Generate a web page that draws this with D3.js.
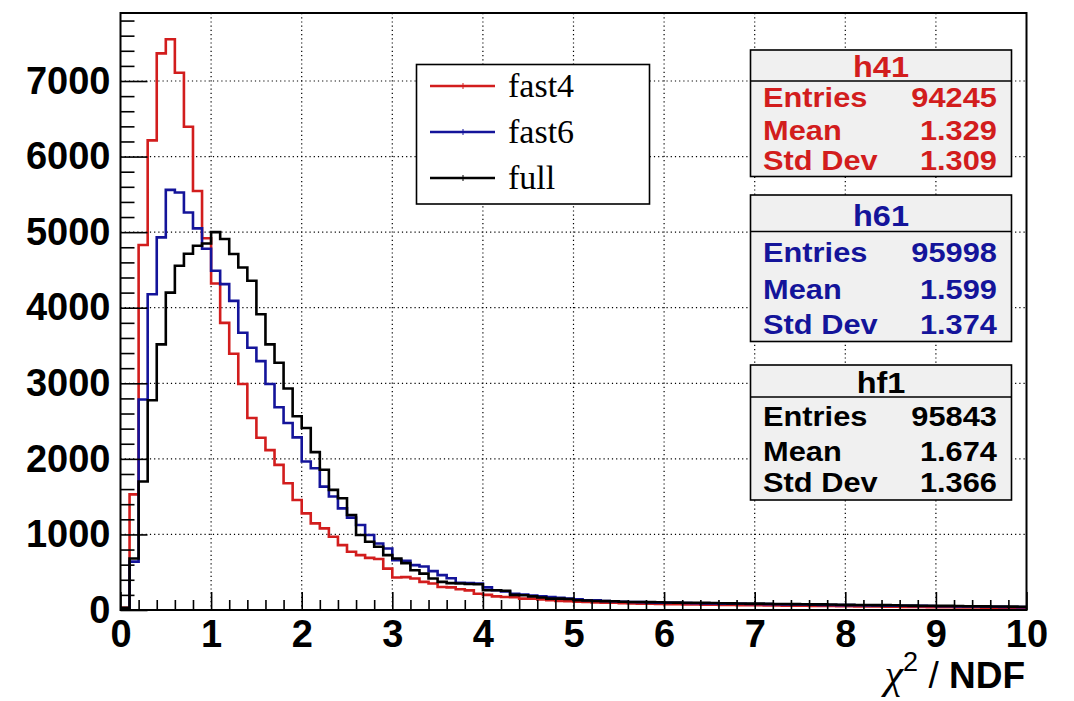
<!DOCTYPE html>
<html>
<head>
<meta charset="utf-8">
<script src="https://cdn.jsdelivr.net/npm/d3@7"></script>
<style>
  html, body { margin: 0; padding: 0; background: #fff; }
  svg { display: block; }
</style>
</head>
<body>
<svg id="svg"></svg>
<script>
// Histogram binning: 100 bins from 0 to 10
const binWidth = 0.1;
const xTicks = [0, 1, 2, 3, 4, 5, 6, 7, 8, 9, 10];
const yTicks = [0, 1000, 2000, 3000, 4000, 5000, 6000, 7000];

// fast4 (h41)
const fast4 = [
  30, 1530, 4830, 6215, 7366, 7552, 7110, 6395, 5545, 4920,
  4320, 3800, 3390, 2990, 2540, 2280, 2115, 1920, 1677, 1456,
  1279, 1146, 1080, 969, 859, 770, 726, 690, 675, 548,
  430, 435, 416, 372, 350, 305, 300, 274, 260, 216,
  200, 180, 173, 168, 150, 150, 140, 130, 120, 115,
  110, 105, 100, 97, 95, 90, 88, 84, 82, 80,
  78, 76, 75, 72, 70, 70, 68, 66, 65, 64,
  62, 60, 60, 58, 57, 56, 55, 54, 52, 50,
  50, 48, 47, 46, 45, 44, 42, 40, 40, 38,
  37, 36, 35, 34, 33, 32, 30, 28, 26, 25
];

// fast6 (h61)
const fast6 = [
  20, 640, 2785, 4179, 4931, 5560, 5525, 5260, 5050, 4780,
  4489, 4312, 4090, 3669, 3470, 3293, 2990, 2683, 2474, 2284,
  1965, 1876, 1633, 1501, 1345, 1222, 1125, 992, 880, 814,
  660, 650, 594, 575, 514, 461, 420, 360, 355, 350,
  300, 262, 245, 215, 203, 190, 180, 173, 160, 150,
  140, 130, 129, 120, 115, 110, 106, 104, 100, 98,
  96, 95, 92, 90, 88, 86, 85, 84, 82, 80,
  80, 78, 76, 75, 74, 72, 70, 68, 67, 65,
  64, 62, 60, 60, 58, 57, 56, 55, 54, 52,
  50, 50, 48, 47, 46, 45, 44, 42, 40, 38
];

// full (hf1)
const full = [
  30, 681, 1700, 2775, 3515, 4200, 4555, 4714, 4820, 4850,
  5000, 4910, 4710, 4533, 4356, 3913, 3515, 3271, 2931, 2563,
  2408, 2089, 1855, 1590, 1478, 1258, 992, 903, 837, 726,
  681, 620, 527, 482, 416, 372, 355, 350, 345, 340,
  262, 262, 255, 200, 195, 180, 165, 150, 150, 145,
  129, 125, 120, 118, 115, 110, 106, 106, 104, 102,
  100, 98, 96, 95, 94, 92, 90, 88, 87, 85,
  84, 82, 80, 79, 78, 76, 75, 74, 72, 70,
  68, 67, 66, 65, 64, 62, 60, 58, 57, 56,
  55, 54, 52, 50, 50, 48, 47, 46, 45, 44
];

const seriesNames = ["fast4", "fast6", "full"];
const histNames = ["h41", "h61", "hf1"];
const entries = ["94245", "95998", "95843"];
const means = ["1.329", "1.599", "1.674"];
const stdDevs = ["1.309", "1.374", "1.366"];
const colors = ["#d21d1d", "#14149a", "#000000"];

const width = 1074, height = 701;
const plot = { left: 120.5, right: 1026.5, top: 13, bottom: 610 };

const svg = d3.select("#svg")
    .attr("width", width)
    .attr("height", height);

const x = d3.scaleLinear().domain([0, 10]).range([plot.left, plot.right]);
const y = d3.scaleLinear().domain([0, 7900]).range([plot.bottom, plot.top]);

const sansBold = "'Liberation Sans', Arial, sans-serif";

// Dotted grid
const grid = svg.append("g").attr("class", "grid");
grid.selectAll(".gx")
    .data(xTicks.slice(1, -1))
    .join("line")
    .attr("x1", d => x(d)).attr("x2", d => x(d))
    .attr("y1", plot.top).attr("y2", plot.bottom)
    .attr("stroke", "#000").attr("stroke-width", 1.2)
    .attr("stroke-dasharray", "1.2,3");
grid.selectAll(".gy")
    .data(yTicks.slice(1))
    .join("line")
    .attr("x1", plot.left).attr("x2", plot.right)
    .attr("y1", d => y(d)).attr("y2", d => y(d))
    .attr("stroke", "#000").attr("stroke-width", 1.2)
    .attr("stroke-dasharray", "1.2,3");

// Histograms as step lines
const line = d3.line()
    .x(d => x(d[0]))
    .y(d => y(d[1]))
    .curve(d3.curveStepAfter);

[fast4, fast6, full].forEach((vals, k) => {
    const pts = vals.map((v, i) => [i * binWidth, v]);
    pts.push([vals.length * binWidth, vals[vals.length - 1]]);
    svg.append("path")
        .attr("d", line(pts))
        .attr("fill", "none")
        .attr("stroke", colors[k])
        .attr("stroke-width", 2.6);
});

// Axes
const yMinor = d3.range(0, 7901, 200).filter(v => v % 1000 !== 0);
const xMinor = d3.range(0, 10.01, 0.2).filter(v => Math.abs(v - Math.round(v)) > 1e-6);

const yAxisMinor = svg.append("g")
    .attr("transform", `translate(${plot.left},0)`)
    .call(d3.axisLeft(y).tickValues(yMinor).tickSizeInner(-14).tickSizeOuter(0).tickFormat(""));
const yAxis = svg.append("g")
    .attr("transform", `translate(${plot.left},0)`)
    .call(d3.axisLeft(y).tickValues(yTicks).tickSizeInner(-27).tickSizeOuter(0)
        .tickPadding(10).tickFormat(d3.format("d")));
const xAxisMinor = svg.append("g")
    .attr("transform", `translate(0,${plot.bottom})`)
    .call(d3.axisBottom(x).tickValues(xMinor).tickSizeInner(-10).tickSizeOuter(0).tickFormat(""));
const xAxis = svg.append("g")
    .attr("transform", `translate(0,${plot.bottom})`)
    .call(d3.axisBottom(x).tickValues(xTicks).tickSizeInner(-18).tickSizeOuter(0).tickPadding(10));

svg.selectAll(".domain").remove();
svg.selectAll(".tick line").attr("stroke", "#000").attr("stroke-width", 1.6);
[yAxis, xAxis].forEach(a => a.selectAll("text")
    .attr("fill", "#000")
    .style("font-family", sansBold)
    .style("font-weight", "bold")
    .style("font-size", "38px"));

// Frame
svg.append("rect")
    .attr("x", plot.left).attr("y", plot.top)
    .attr("width", plot.right - plot.left).attr("height", plot.bottom - plot.top)
    .attr("fill", "none").attr("stroke", "#000").attr("stroke-width", 2);

// Axis title
const title = svg.append("text")
    .attr("x", 1025).attr("y", 688)
    .attr("text-anchor", "end")
    .attr("fill", "#000");
title.append("tspan").text("χ")
    .style("font-family", "'Liberation Serif', serif").style("font-style", "italic").style("font-size", "42px");
title.append("tspan").text("2").attr("dy", -17)
    .style("font-family", sansBold).style("font-size", "27px");
title.append("tspan").text(" / ").attr("dy", 17)
    .style("font-family", sansBold).style("font-size", "37px");
title.append("tspan").text("NDF")
    .style("font-family", sansBold).style("font-weight", "bold").style("font-size", "37px");

// Legend
const legend = svg.append("g");
legend.append("rect")
    .attr("x", 416.5).attr("y", 64.5).attr("width", 233).attr("height", 139.5)
    .attr("fill", "#fff").attr("stroke", "#000").attr("stroke-width", 1.6);
const legendRows = legend.selectAll(".entry")
    .data(seriesNames)
    .join("g")
    .attr("transform", (d, i) => `translate(0,${86 + i * 46})`);
legendRows.append("line")
    .attr("x1", 430).attr("x2", 495).attr("y1", 0).attr("y2", 0)
    .attr("stroke", (d, i) => colors[i]).attr("stroke-width", 2.6);
legendRows.append("line")
    .attr("x1", 463).attr("x2", 463).attr("y1", -3).attr("y2", 3)
    .attr("stroke", (d, i) => colors[i]).attr("stroke-width", 1);
legendRows.append("text")
    .attr("x", 508).attr("y", 11)
    .style("font-family", "'Liberation Serif', 'Times New Roman', serif")
    .style("font-size", "34px")
    .attr("fill", "#000")
    .text(d => d);

// Statistics boxes (text slightly widened like the original)
const boxes = [
    { top: 50, head: 81, bottom: 176.5, rows: [106.5, 139.5, 170], titleY: 77 },
    { top: 195, head: 231.5, bottom: 341.5, rows: [261.5, 298.5, 333.5], titleY: 226 },
    { top: 365, head: 397, bottom: 500, rows: [426, 461, 491.5], titleY: 393 }
];
const rowLabels = ["Entries", "Mean", "Std Dev"];
const stretch = 1.12;
boxes.forEach((b, k) => {
    const g = svg.append("g");
    g.append("rect")
        .attr("x", 750.5).attr("y", b.top).attr("width", 261).attr("height", b.bottom - b.top)
        .attr("fill", "#f0f0f0").attr("stroke", "#000").attr("stroke-width", 1.6);
    g.append("line")
        .attr("x1", 750.5).attr("x2", 1011.5).attr("y1", b.head).attr("y2", b.head)
        .attr("stroke", "#000").attr("stroke-width", 1.6);
    g.append("text")
        .attr("transform", `translate(881,${b.titleY}) scale(${stretch},1)`)
        .attr("text-anchor", "middle")
        .style("font-size", "29px")
        .text(histNames[k]);
    const vals = [entries[k], means[k], stdDevs[k]];
    rowLabels.forEach((lab, r) => {
        g.append("text")
            .attr("transform", `translate(763,${b.rows[r]}) scale(${stretch},1)`)
            .style("font-size", "27.5px").text(lab);
        g.append("text")
            .attr("transform", `translate(997,${b.rows[r]}) scale(${stretch},1)`)
            .style("font-size", "27.5px")
            .attr("text-anchor", "end").text(vals[r]);
    });
    g.selectAll("text")
        .attr("fill", colors[k])
        .style("font-family", sansBold)
        .style("font-weight", "bold");
});
</script>
</body>
</html>
